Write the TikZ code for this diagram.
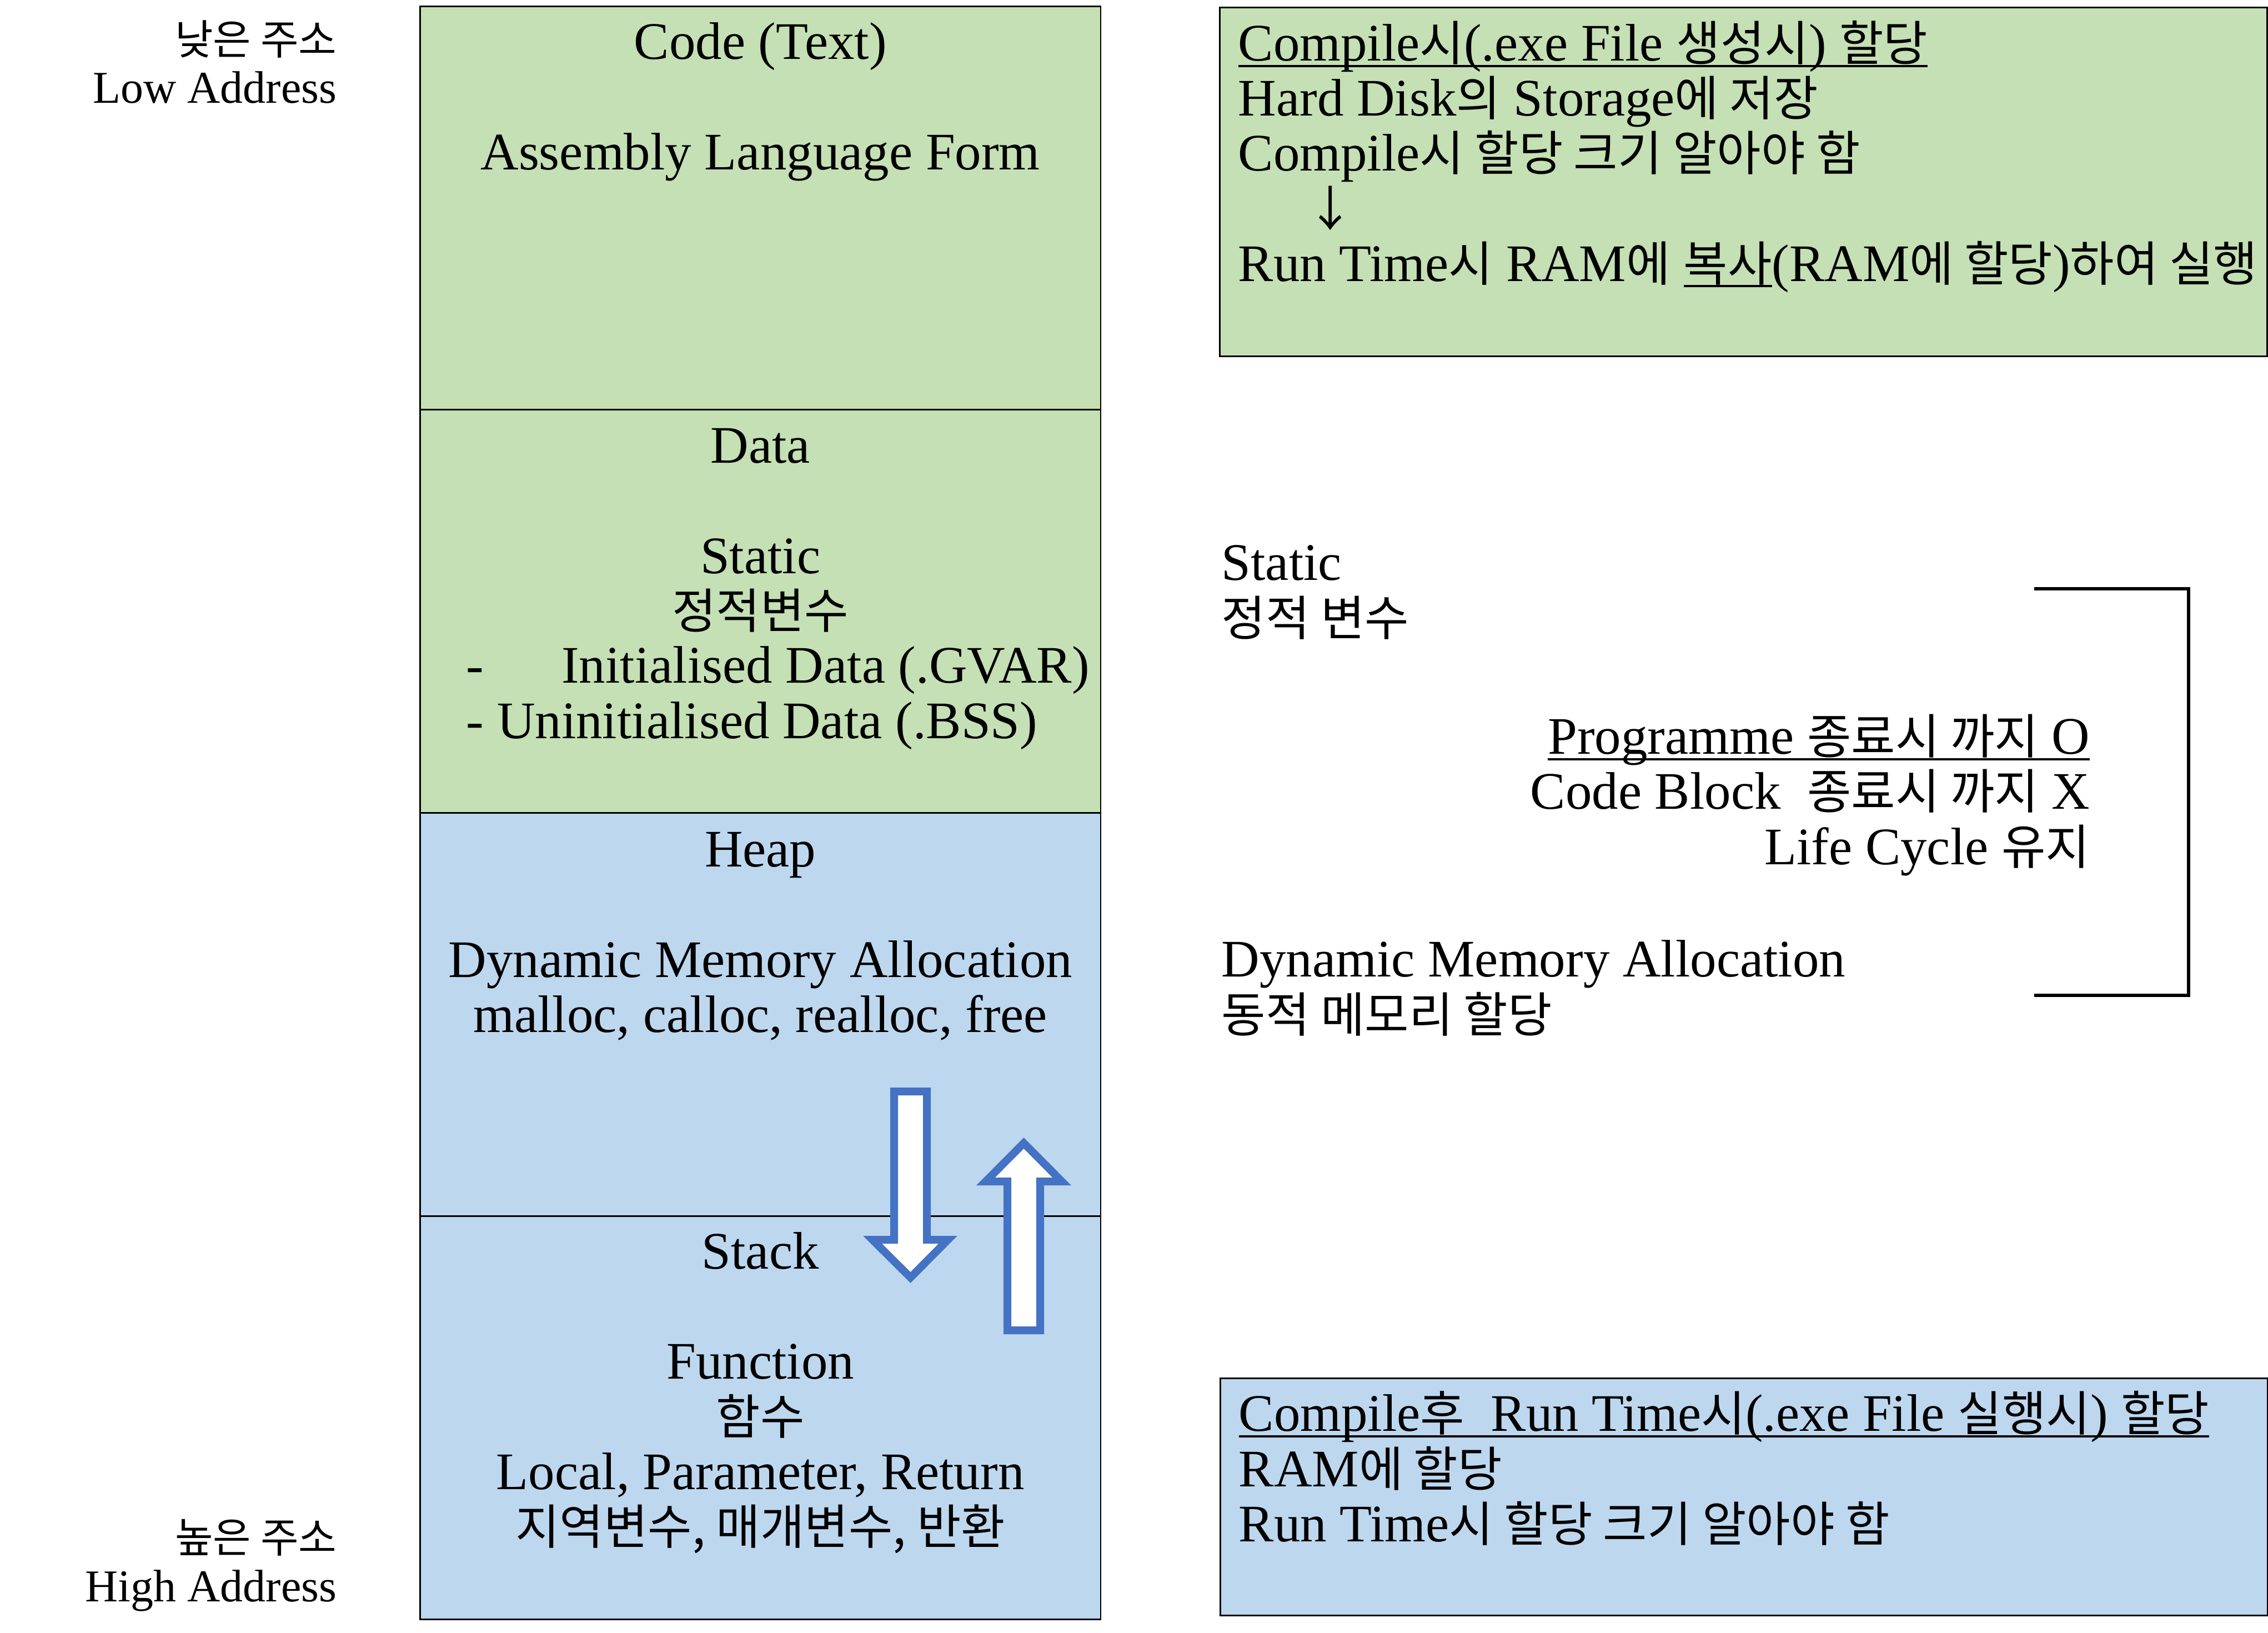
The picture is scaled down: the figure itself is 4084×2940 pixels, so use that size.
\documentclass[tikz,border=0pt]{standalone}
\usepackage{fontspec}
\setmainfont{Liberation Serif}
\newfontfamily\krfont[Scale=0.91]{Noto Sans CJK KR}
\newcommand{\krtxt}[1]{{\krfont #1}}
\newcommand{\undertxt}[1]{\setbox0\hbox{#1}\rlap{\rule[-0.11cm]{\wd0}{0.04cm}}\box0}
\usepackage{tikz}
\definecolor{seggreen}{RGB}{197,224,180}
\definecolor{segblue}{RGB}{189,215,238}
\definecolor{arrowblue}{RGB}{68,114,196}

\begin{document}
\begin{tikzpicture}[x=0.01cm, y=-0.01cm,
  seg/.style={draw, line width=0.75pt, minimum width=12.25cm, minimum height=7.26cm,
              inner sep=0pt, anchor=north west},
  infobox/.style={draw, line width=0.75pt, minimum width=18.85cm, inner sep=0pt,
                  anchor=north west},
  memtxt/.style={align=center, inner sep=0pt, anchor=base,
                 font=\fontsize{27}{28.2}\selectfont},
  sidetxt/.style={align=left, inner sep=0pt, anchor=base west,
                  font=\fontsize{27}{28.2}\selectfont},
  addrtxt/.style={align=right, inner sep=0pt, anchor=base east,
                  font=\fontsize{23.3}{25}\selectfont},
  blockarrow/.style={draw=arrowblue, fill=white, line width=0.14cm, line join=miter}]
  \useasboundingbox (0,0) rectangle (4084,2940);

  % memory segments (text nodes sit on the baseline of their last line)
  \node[seg, fill=seggreen] (code) at (755,10) {};
  \node[seg, fill=seggreen] (data) at (755,736) {};
  \node[seg, fill=segblue] (heap) at (755,1462) {};
  \node[seg, fill=segblue] (stack) at (755,2188) {};

  \node[memtxt] (codetxt) at ([yshift=-2.95cm]code.north) {Code (Text)\\ \\Assembly Language Form};
  \node[memtxt] (datatxt) at ([yshift=-3.95cm]data.north) {Data\\ \\Static\\\krtxt{정적변수}};
  \node[sidetxt] (datalist) at (839,1329)
    {-\hspace{1.4cm}Initialised Data (.GVAR)\\- Uninitialised Data (.BSS)};
  \node[memtxt] (heaptxt) at ([yshift=-3.96cm]heap.north)
    {Heap\\ \\Dynamic Memory Allocation\\malloc, calloc, realloc, free};
  \node[memtxt] (stacktxt) at ([yshift=-5.92cm]stack.north)
    {Stack\\ \\Function\\\krtxt{함수}\\Local, Parameter, Return\\\krtxt{지역변수, 매개변수, 반환}};

  % growth arrows
  \draw[blockarrow] (1610,1965) -- ++(59,0) -- ++(0,267) -- ++(38,0) -- (1639.5,2300)
    -- (1571,2232) -- ++(39,0) -- cycle;
  \draw[blockarrow] (1814,2395) -- ++(59,0) -- ++(0,-268) -- ++(39,0) -- (1843.5,2058)
    -- (1775,2127) -- ++(39,0) -- cycle;

  % address labels
  \node[addrtxt] (lowaddr) at (607,186) {\krtxt{낮은 주소}\\Low Address};
  \node[addrtxt] (highaddr) at (607,2883) {\krtxt{높은 주소}\\High Address};

  % right side notes
  \node[infobox, fill=seggreen, minimum height=6.28cm] (compilebox) at (2195,12) {};
  \node[sidetxt] (compiletxt) at ([xshift=0.34cm, yshift=-4.94cm]compilebox.north west)
    {\undertxt{Compile\krtxt{시}(.exe File \krtxt{생성시}) \krtxt{할당}}\\
     Hard Disk\krtxt{의} Storage\krtxt{에 저장}\\
     Compile\krtxt{시 할당 크기 알아야 함}\\
     \hspace*{1.23cm}\krtxt{↓}\\
     Run Time\krtxt{시} RAM\krtxt{에} \undertxt{\krtxt{복사}}(RAM\krtxt{에 할당})\krtxt{하여 실행}};

  \node[sidetxt] (statictxt) at (2199,1144) {Static\\\krtxt{정적 변수}};
  \node[sidetxt, align=right, anchor=base east] (lifetxt) at (3764,1556)
    {\undertxt{Programme \krtxt{종료시 까지} O}\\
     Code Block~ \krtxt{종료시 까지} X\\
     Life Cycle \krtxt{유지}};
  \node[sidetxt] (dynamictxt) at (2199,1858) {Dynamic Memory Allocation\\\krtxt{동적 메모리 할당}};

  \coordinate (lifetop) at (3663,1060);
  \coordinate (lifebot) at (3663,1792);
  \draw[line width=1.8pt] (lifetop) -- ++(278,0) |- (lifebot);

  \node[infobox, fill=segblue, minimum height=4.27cm] (runbox) at (2196,2480) {};
  \node[sidetxt] (runtxt) at ([xshift=0.34cm, yshift=-2.95cm]runbox.north west)
    {\undertxt{Compile\krtxt{후}~ Run Time\krtxt{시}(.exe File \krtxt{실행시}) \krtxt{할당}}\\
     RAM\krtxt{에 할당}\\
     Run Time\krtxt{시 할당 크기 알아야 함}};
\end{tikzpicture}
\end{document}
